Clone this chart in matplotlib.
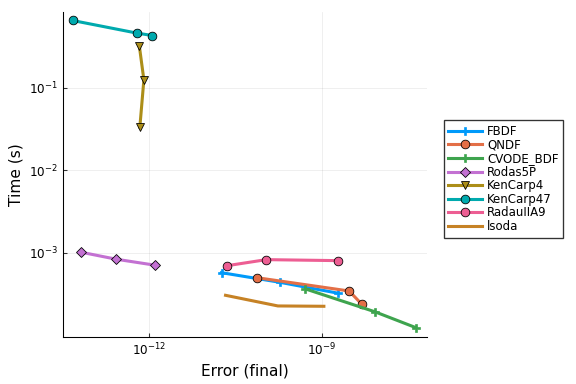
import matplotlib
matplotlib.use("Agg")
import matplotlib.pyplot as plt
from matplotlib.ticker import NullLocator

# error (final) vs time (s)
fbdf_err = [10**-10.74, 10**-9.73, 10**-8.71]
fbdf_time = [10**-3.239, 10**-3.355, 10**-3.488]

qndf_err = [10**-10.13, 10**-8.52, 10**-8.30]
qndf_time = [10**-3.299, 10**-3.461, 10**-3.622]

cvode_err = [10**-9.28, 10**-8.075, 10**-7.36]
cvode_time = [10**-3.436, 10**-3.712, 10**-3.905]

rodas_err = [10**-13.19, 10**-12.57, 10**-11.89]
rodas_time = [10**-2.99, 10**-3.076, 10**-3.149]

kencarp4_err = [10**-12.17, 10**-12.09, 10**-12.16]
kencarp4_time = [10**-0.487, 10**-0.903, 10**-1.476]

kencarp47_err = [10**-13.33, 10**-12.21, 10**-11.94]
kencarp47_time = [10**-0.184, 10**-0.337, 10**-0.366]

radau_err = [10**-10.64, 10**-9.96, 10**-8.72]
radau_time = [10**-3.154, 10**-3.081, 10**-3.093]

lsoda_err = [10**-10.67, 10**-9.76, 10**-8.96]
lsoda_time = [10**-3.513, 10**-3.642, 10**-3.646]

series = [
    ("FBDF", fbdf_err, fbdf_time, "#009AFA", "P"),
    ("QNDF", qndf_err, qndf_time, "#E36F47", "o"),
    ("CVODE_BDF", cvode_err, cvode_time, "#3EA44E", "P"),
    ("Rodas5P", rodas_err, rodas_time, "#C371D2", "D"),
    ("KenCarp4", kencarp4_err, kencarp4_time, "#AC8E18", "v"),
    ("KenCarp47", kencarp47_err, kencarp47_time, "#00AAAE", "o"),
    ("RadauIIA9", radau_err, radau_time, "#ED5E93", "o"),
    ("lsoda", lsoda_err, lsoda_time, "#C68225", None),
]

fig = plt.figure(figsize=(6, 4), dpi=96)
ax = fig.add_axes([0.109, 0.122, 0.632, 0.847])

for name, xs, ys, col, mk in series:
    if mk == "P":
        ax.plot(xs, ys, color=col, lw=2.3, marker="P", ms=6.5,
                mec=col, mew=0.5, label=name)
    elif mk is None:
        ax.plot(xs, ys, color=col, lw=2.3, label=name)
    else:
        size = 5.5 if mk == "D" else 6.5
        ax.plot(xs, ys, color=col, lw=2.3, marker=mk, ms=size,
                mec="black", mew=0.6, label=name)

ax.set_xscale("log")
ax.set_yscale("log")
ax.set_xlim(10**-13.5, 10**-7.17)
ax.set_ylim(10**-4.02, 10**-0.08)
ax.set_xticks([1e-12, 1e-9])
ax.set_yticks([1e-3, 1e-2, 1e-1])
ax.xaxis.set_minor_locator(NullLocator())
ax.yaxis.set_minor_locator(NullLocator())
ax.tick_params(direction="in", labelsize=9, length=3, color="#333333")
ax.grid(True, color="#000000", alpha=0.08, lw=0.6)
for s in ["top", "right"]:
    ax.spines[s].set_visible(False)
ax.set_xlabel("Error (final)", fontsize=11.5)
ax.set_ylabel("Time (s)", fontsize=11.5)

ax.legend(loc="upper left", bbox_to_anchor=(1.03, 0.685), fontsize=8.8,
          fancybox=False, edgecolor="#333333", framealpha=1,
          handlelength=2.9, borderpad=0.4, labelspacing=0.05,
          handletextpad=0.4)

fig.savefig("out.png", dpi=96)
